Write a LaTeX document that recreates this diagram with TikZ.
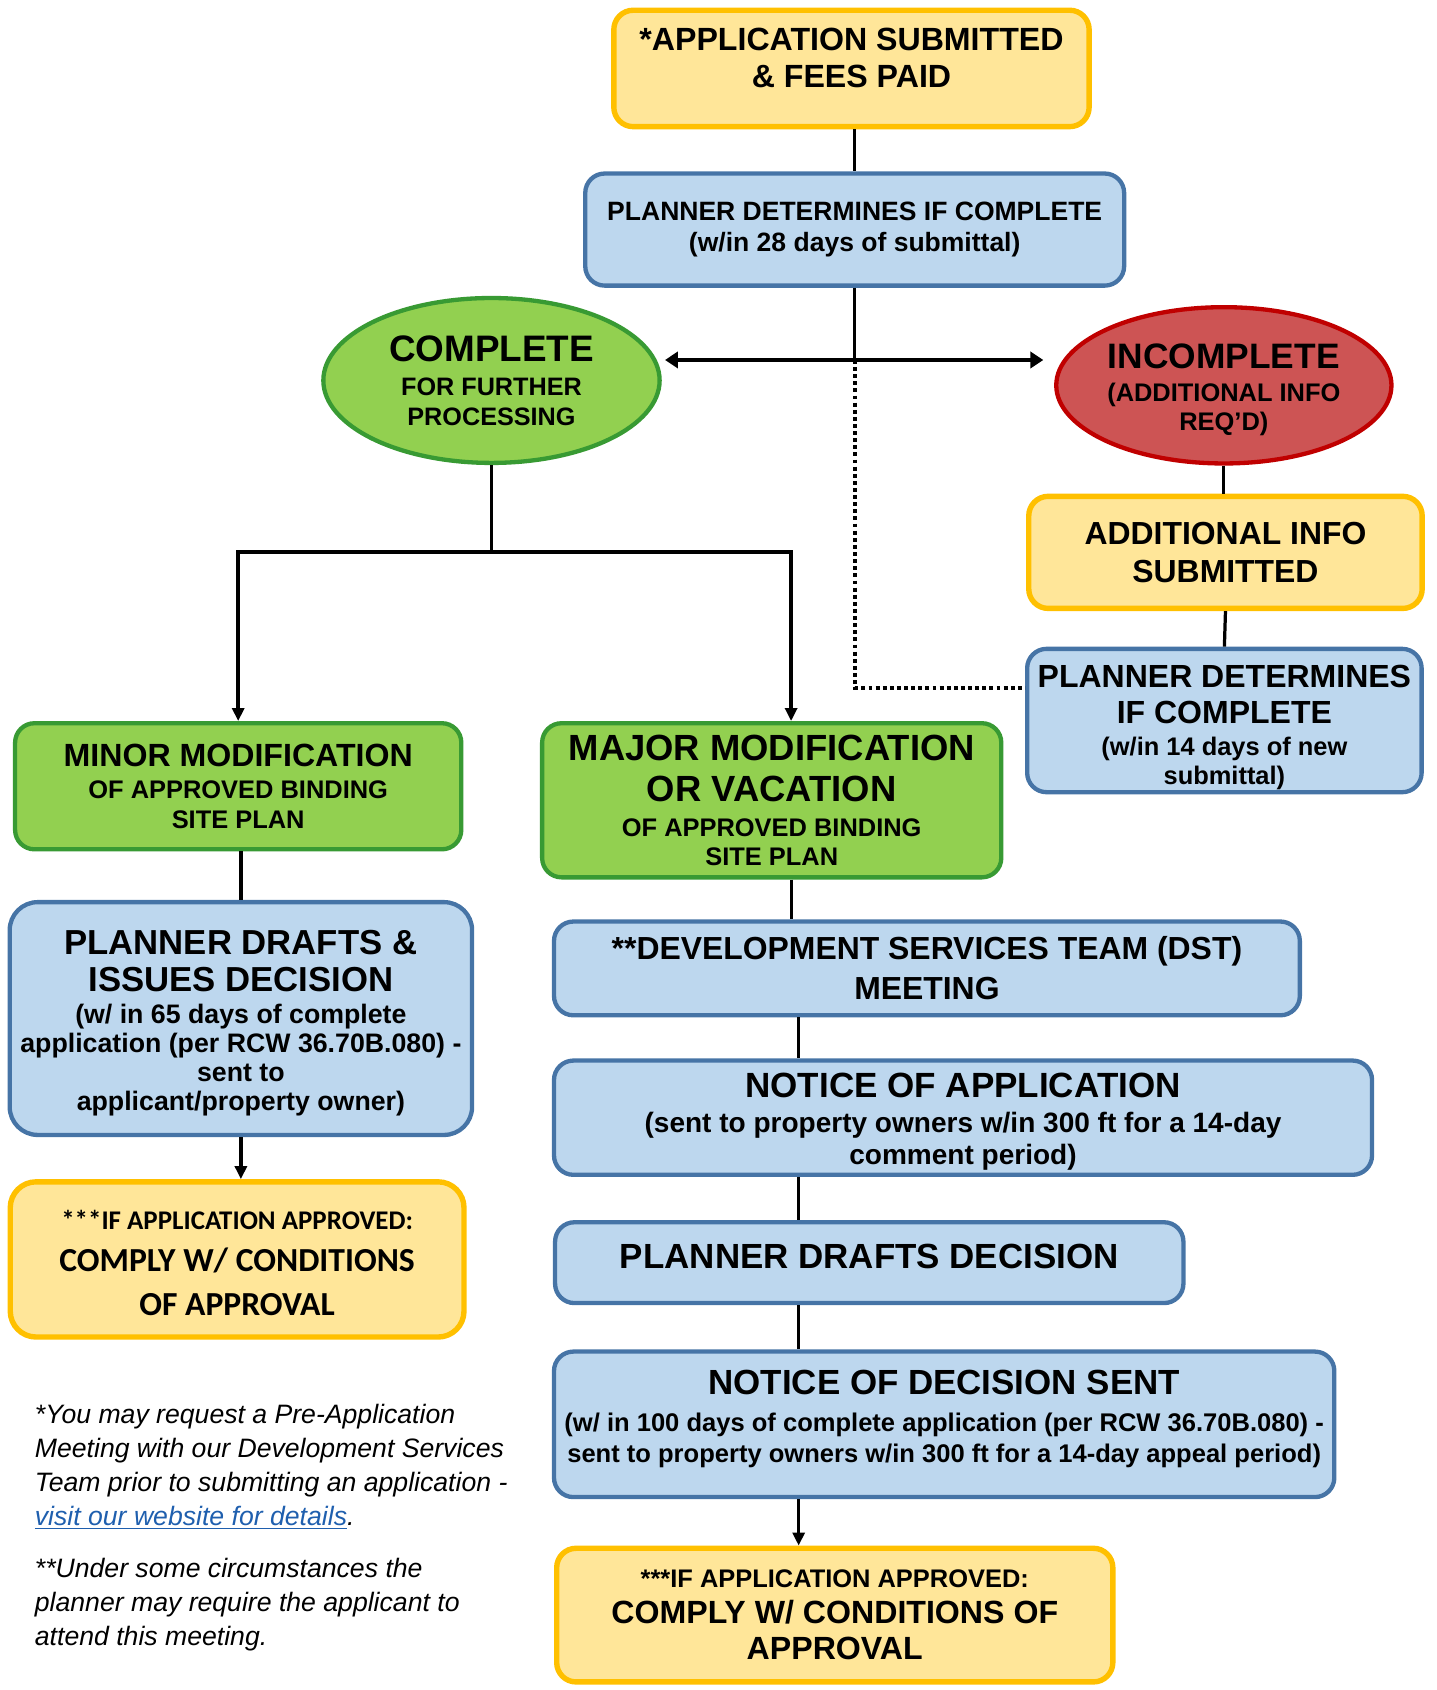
\documentclass[tikz,border=0pt]{standalone}
\usepackage{fontspec}
\setmainfont{Liberation Sans}
\newfontfamily\carlito{Carlito}
\usetikzlibrary{arrows.meta,shapes.geometric,calc}
\definecolor{yfill}{HTML}{FFE699}
\definecolor{ydraw}{HTML}{FFC000}
\definecolor{bfill}{HTML}{BDD7EE}
\definecolor{bdraw}{HTML}{4674A6}
\definecolor{gfill}{HTML}{92D050}
\definecolor{gdraw}{HTML}{389A33}
\definecolor{rfill}{HTML}{CD5454}
\definecolor{rdraw}{HTML}{C00000}
\definecolor{linkc}{HTML}{1F5FAE}
\newcommand\fz[2]{\fontsize{#1}{#2}\selectfont}
\tikzset{
  box/.style={rectangle, rounded corners=9pt, line width=2pt, align=center, inner sep=0pt},
  ybox/.style={box, fill=yfill, draw=ydraw, line width=2.5pt},
  bbox/.style={box, fill=bfill, draw=bdraw},
  gbox/.style={box, fill=gfill, draw=gdraw},
  oval/.style={ellipse, line width=2pt, align=center, inner sep=0pt},
  txt/.style={align=center, inner sep=0pt},
  conn/.style={line width=1.5pt},
  arr/.style={conn, -{Triangle[length=6pt,width=5.5pt]}},
  dbl/.style={line width=2pt, -{Triangle[length=6pt,width=7.5pt]}},
  dots/.style={line width=1.8pt, dash pattern=on 1.8pt off 1.5pt},
  note/.style={anchor=north west, inner sep=0pt, align=left, font=\fz{12.35}{15.8}\itshape}
}
\begin{document}
\begin{tikzpicture}[x=0.5pt,y=-0.5pt]
\useasboundingbox (0,0) rectangle (1333,1568);

% top
\node[ybox, minimum width=220.5pt, minimum height=54pt] (app) at (790,63.5) {};
\node[txt, font=\fz{14.9}{17}\bfseries] (appt) at (790,54) {*APPLICATION SUBMITTED\\\& FEES PAID};
\node[bbox, minimum width=250pt, minimum height=52pt, font=\fz{12.3}{14.5}\bfseries] (pd1) at (793,213)
  {PLANNER DETERMINES IF COMPLETE\\(w/in 28 days of submittal)};

% ellipses
\node[oval, draw=gdraw, fill=gfill, minimum width=156pt, minimum height=76.5pt, font=\fz{11.7}{13.5}\bfseries] (complete) at (456,353)
  {\fz{17.1}{17}COMPLETE\\[2.5pt]FOR FURTHER\\PROCESSING};
\node[oval, draw=rdraw, fill=rfill, minimum width=155.5pt, minimum height=72.5pt] (incomplete) at (1135.5,357.5) {};
\node[txt, font=\fz{11.8}{13.5}\bfseries] (incompletet) at (1135.5,362)
  {\fz{16.4}{17}INCOMPLETE\\[1.8pt](ADDITIONAL INFO\\REQ'D)};

% right column
\node[ybox, minimum width=182.5pt, minimum height=52pt, font=\fz{14.8}{17.5}\bfseries] (addinfo) at (1137,512.5)
  {ADDITIONAL INFO\\SUBMITTED};
\node[bbox, minimum width=183pt, minimum height=66.5pt] (pd2) at (1136,668.5) {};
\node[txt, font=\fz{11.8}{13.5}\bfseries] (pd2t) at (1136,675)
  {\fz{14.85}{17}PLANNER DETERMINES\\[3.5pt]\fz{14.85}{17}IF COMPLETE\\[1.4pt](w/in 14 days of new\\submittal)};

% left column
\node[gbox, minimum width=207pt, minimum height=58.5pt, font=\fz{11.8}{13.5}\bfseries] (minor) at (221,729.5)
  {\fz{14.9}{17}MINOR MODIFICATION\\[1.5pt]OF APPROVED BINDING\\SITE PLAN};
\node[bbox, rounded corners=13pt, minimum width=214.5pt, minimum height=108pt] (pdi) at (223.5,945) {};
\node[txt, font=\fz{12.4}{13.5}\bfseries] (pdit) at (223.5,949.5)
  {\fz{16.1}{17}PLANNER DRAFTS \&\\[3.5pt]\fz{16.1}{17}ISSUES DECISION\\[1.3pt](w/ in 65 days of complete\\application (per RCW 36.70B.080) -\\sent to\\applicant/property owner)};
\node[ybox, rounded corners=12pt, minimum width=210.5pt, minimum height=72pt] (yl) at (220,1168.5) {};
\node[txt, font=\carlito\fz{15.6}{19.5}\bfseries] (ylt) at (220,1172)
  {\fz{12.5}{14}***IF APPLICATION APPROVED:\\COMPLY W/ CONDITIONS\\[1pt]OF APPROVAL};

% middle column
\node[gbox, minimum width=213pt, minimum height=71.5pt, font=\fz{11.8}{13.5}\bfseries] (major) at (716,742.5)
  {\fz{16.9}{17}MAJOR MODIFICATION\\[5.5pt]\fz{16.9}{17}OR VACATION\\[3pt]OF APPROVED BINDING\\SITE PLAN};
\node[bbox, minimum width=346pt, minimum height=43.5pt, font=\fz{14.8}{18.5}\bfseries] (dst) at (860,898.5)
  {**DEVELOPMENT SERVICES TEAM (DST)\\MEETING};
\node[bbox, minimum width=379.5pt, minimum height=53pt] (noa) at (893.5,1037) {};
\node[txt, font=\fz{13}{15}\bfseries] (noat) at (893.5,1040.5)
  {\fz{16.25}{17}NOTICE OF APPLICATION\\[1.35pt](sent to property owners w/in 300 ft for a 14-day\\comment period)};
\node[bbox, minimum width=291.5pt, minimum height=37.5pt] (pdd) at (806.5,1171.5) {};
\node[txt, font=\fz{16.2}{17}\bfseries] (pddt) at (806.5,1166) {PLANNER DRAFTS DECISION};
\node[bbox, minimum width=362pt, minimum height=67.5pt] (nod) at (876,1321.5) {};
\node[txt, font=\fz{11.85}{14.5}\bfseries] (nodt) at (876,1316.5)
  {\fz{16.2}{17}NOTICE OF DECISION SENT\\[3pt](w/ in 100 days of complete application (per RCW 36.70B.080) -\\sent to property owners w/in 300 ft for a 14-day appeal period)};
\node[ybox, minimum width=258pt, minimum height=62pt, font=\fz{14.9}{16.5}\bfseries] (yr) at (774.5,1498.5)
  {\fz{11.8}{14}***IF APPLICATION APPROVED:\\COMPLY W/ CONDITIONS OF\\[0.5pt]APPROVAL};

% notes
\node[note] (fn1) at (32,1302) {*You may request a Pre-Application\\Meeting with our Development Services\\Team prior to submitting an application -\\{\color{linkc}\underline{visit our website for details}}.};
\node[note] (fn2) at (32,1445) {**Under some circumstances the\\planner may require the applicant to\\attend this meeting.};

% connectors
\coordinate (j1) at (793,334);
\coordinate (aL) at (617,334);
\coordinate (aR) at (968,334);
\coordinate (d1) at (793,638);
\coordinate (j2) at (456,512);
\coordinate (mjX) at (734,0);
\coordinate (cX) at (741,0);

\draw[conn] (app.south -| pd1.north) -- (pd1.north);
\draw[conn] (pd1.south) -- (j1);
\draw[dbl] (j1) -- (aL);
\draw[dbl] (j1) -- (aR);
\draw[dots] (j1) -- (d1) -- (d1 -| pd2.west);
\draw[conn] (incomplete.south) -- (incomplete.south |- addinfo.north);
\draw[conn] (addinfo.south) -- (pd2.north);
\draw[conn] (complete.south) -- (j2);
\draw[arr, line width=1.8pt] (j2) -| (minor.north);
\draw[arr, line width=1.8pt] (j2) -| (major.north -| mjX);
\draw[conn] (minor.south -| pdi.north) -- (pdi.north);
\draw[arr] (pdi.south) -- (pdi.south |- yl.north);
\draw[conn] (major.south -| mjX) -- (dst.north -| mjX);
\draw[conn] (dst.south -| cX) -- (noa.north -| cX);
\draw[conn] (noa.south -| cX) -- (pdd.north -| cX);
\draw[conn] (pdd.south -| cX) -- (nod.north -| cX);
\draw[arr] (nod.south -| cX) -- (yr.north -| cX);
\end{tikzpicture}
\end{document}
